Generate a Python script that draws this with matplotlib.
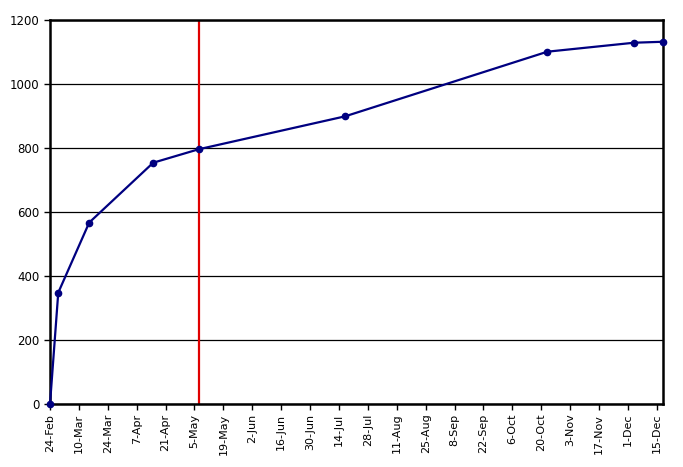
import matplotlib
matplotlib.use("Agg")
import matplotlib.pyplot as plt
import datetime as dt

dates = ["2001-02-24", "2001-02-28", "2001-03-15", "2001-04-15", "2001-05-07",
         "2001-07-17", "2001-10-23", "2001-12-04", "2001-12-18"]
values = [0, 348, 567, 754, 796, 899, 1101, 1129, 1132]
marker_date = "2001-05-07"
tick_start = "2001-02-24"
n_ticks = 22
y_ticks = [0, 200, 400, 600, 800, 1000, 1200]

x = [dt.datetime.strptime(d, "%Y-%m-%d") for d in dates]
t0 = dt.datetime.strptime(tick_start, "%Y-%m-%d")
xt = [t0 + dt.timedelta(days=14 * i) for i in range(n_ticks)]
xt_labels = [f"{d.day}-{d.strftime('%b')}" for d in xt]

fig = plt.figure(figsize=(6.83, 4.67), dpi=100)
ax = fig.add_axes([50 / 683, 63 / 467, 613 / 683, 384 / 467])

ax.axvline(dt.datetime.strptime(marker_date, "%Y-%m-%d"), color="#e00000", lw=1.6, zorder=2)
ax.plot(x, values, color="#000080", lw=1.6, marker="o", ms=4.5, zorder=3, clip_on=False)

ax.set_xlim(x[0], x[-1])
ax.set_ylim(0, 1200)
ax.set_yticks(y_ticks)
ax.set_xticks(xt)
ax.set_xticklabels(xt_labels, rotation=90, fontsize=8)
ax.tick_params(axis="y", labelsize=8.5, length=4, width=1)
ax.tick_params(axis="x", length=4, width=1, pad=3)
ax.yaxis.grid(True, color="black", lw=0.9)
ax.set_axisbelow(True)
for s in ax.spines.values():
    s.set_linewidth(1.8)
    s.set_color("black")

fig.savefig("out.png", dpi=100)
